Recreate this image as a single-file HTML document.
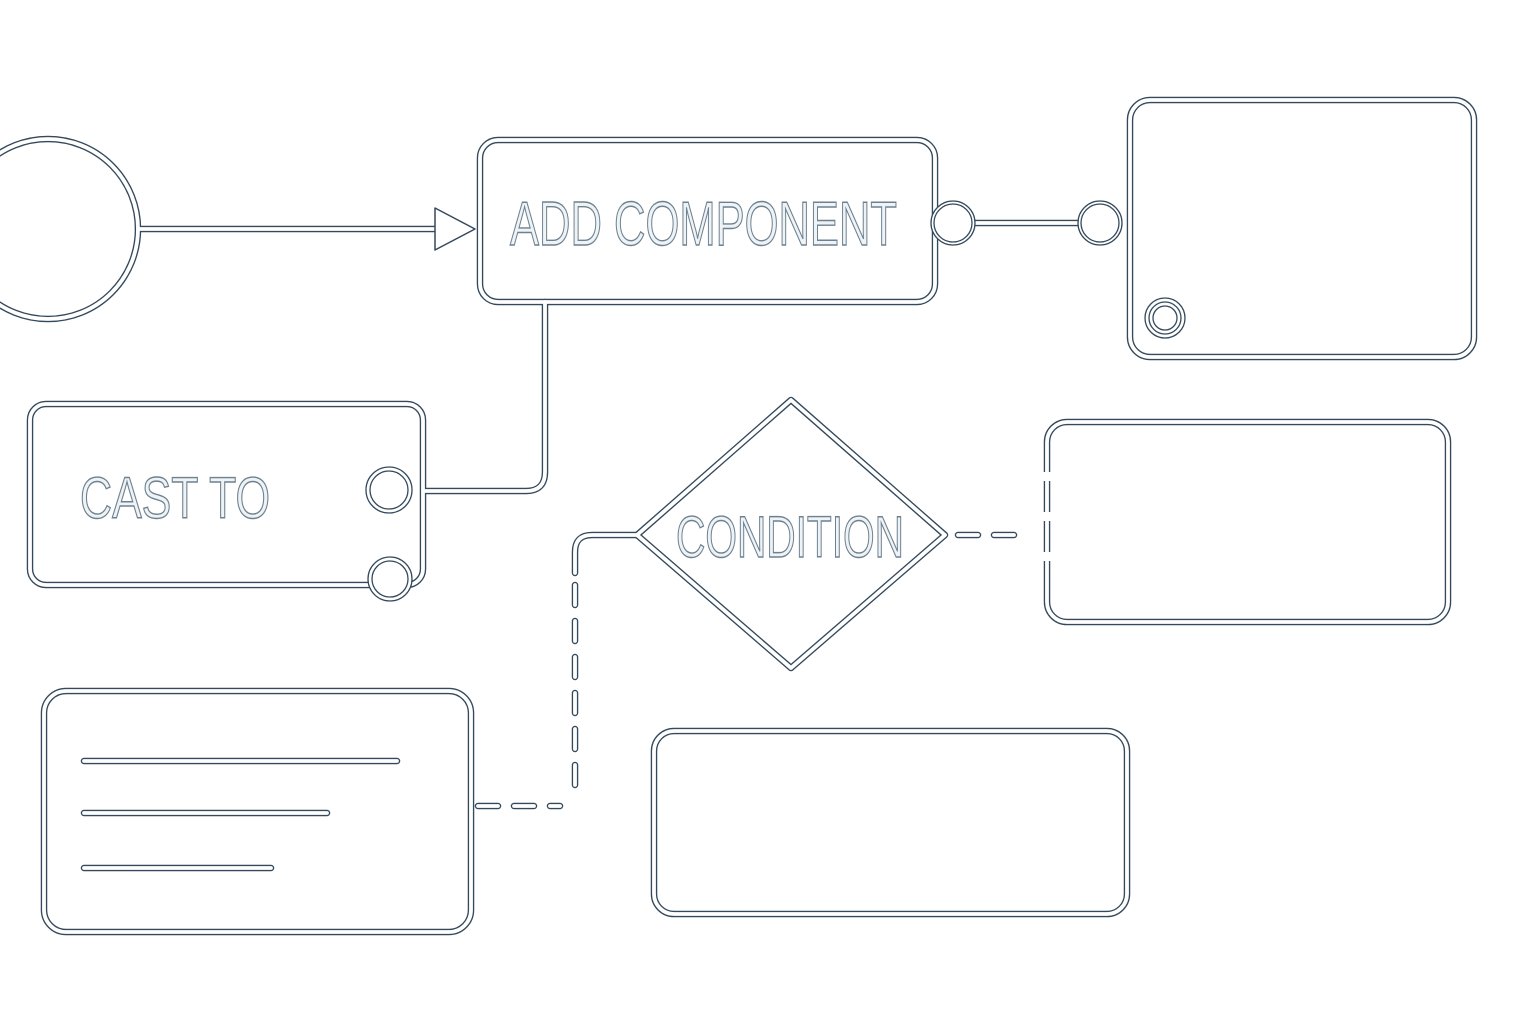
<!DOCTYPE html>
<html><head><meta charset="utf-8"><style>
html,body{margin:0;padding:0;background:#fff;}
svg{display:block;}
text{font-family:"Liberation Sans Narrow","Liberation Sans",sans-serif;fill:#eef3f6;stroke:#6f8190;stroke-width:1.4;}
</style></head><body>
<svg width="1536" height="1024" viewBox="0 0 1536 1024" xmlns="http://www.w3.org/2000/svg">
<defs>
<g id="solid" fill="none" stroke-linecap="round" stroke-linejoin="round">
  <circle cx="48" cy="229" r="90"/>
  <line x1="138" y1="229" x2="438" y2="229"/>
  <rect x="480" y="140" width="455" height="162" rx="18"/>
  <line x1="974" y1="223" x2="1080" y2="223"/>
  <rect x="1130" y="100" width="344" height="257" rx="20"/>
  <path d="M545 302 V472 Q545 491 526 491 H425"/>
  <rect x="30" y="404" width="393" height="181" rx="16"/>
  <path d="M791 400 L945 535 L791 668 L637 535 Z"/>
  <rect x="1047" y="422" width="401" height="200" rx="20"/>
  <path d="M575 573 V552 Q575 535 592 535 H637"/>
  <rect x="44" y="691" width="427" height="241" rx="22"/>
  <line x1="84" y1="761" x2="397" y2="761"/>
  <line x1="84" y1="813" x2="327" y2="813"/>
  <line x1="84" y1="868" x2="271" y2="868"/>
  <rect x="654" y="731" width="473" height="183" rx="20"/>
</g>
<g id="dash" fill="none" stroke-linecap="round" stroke-dasharray="20 16">
  <line x1="958" y1="535" x2="1030" y2="535"/>
  <line x1="478" y1="806" x2="560" y2="806"/>
  <line x1="575" y1="585" x2="575" y2="790"/>
</g>
</defs>
<g stroke="#34495c" stroke-width="6.5"><use href="#solid"/><use href="#dash"/></g>
<g stroke="#ffffff" stroke-width="3.8"><use href="#solid"/><use href="#dash"/></g>
<rect x="1040" y="472" width="14" height="9" fill="#fff"/>
<rect x="1040" y="512" width="14" height="9" fill="#fff"/>
<rect x="1040" y="552" width="14" height="9" fill="#fff"/>
<g stroke="#34495c" stroke-width="1.3">
  <circle cx="953" cy="223" r="22" fill="#fff"/><circle cx="953" cy="223" r="19" fill="#fff"/>
  <circle cx="1100" cy="223" r="22" fill="#fff"/><circle cx="1100" cy="223" r="19" fill="#fff"/>
  <circle cx="389" cy="490" r="23" fill="#fff"/><circle cx="389" cy="490" r="19" fill="#fff"/>
  <circle cx="390" cy="579" r="22" fill="#fff"/><circle cx="390" cy="579" r="18" fill="#fff"/>
  <circle cx="1165" cy="318" r="20" fill="#fff"/><circle cx="1165" cy="318" r="16" fill="#fff"/>
  <circle cx="1165" cy="318" r="12" fill="none"/>
</g>
<path d="M435 208 L475 229 L435 250 Z" fill="#fff" stroke="#34495c" stroke-width="1.5" stroke-linejoin="round"/>
<text x="510" y="245" font-size="62" textLength="387" lengthAdjust="spacingAndGlyphs">ADD COMPONENT</text>
<text x="80" y="518" font-size="58" textLength="190" lengthAdjust="spacingAndGlyphs">CAST TO</text>
<text x="676" y="557" font-size="58" textLength="228" lengthAdjust="spacingAndGlyphs">CONDITION</text>
</svg>
</body></html>
